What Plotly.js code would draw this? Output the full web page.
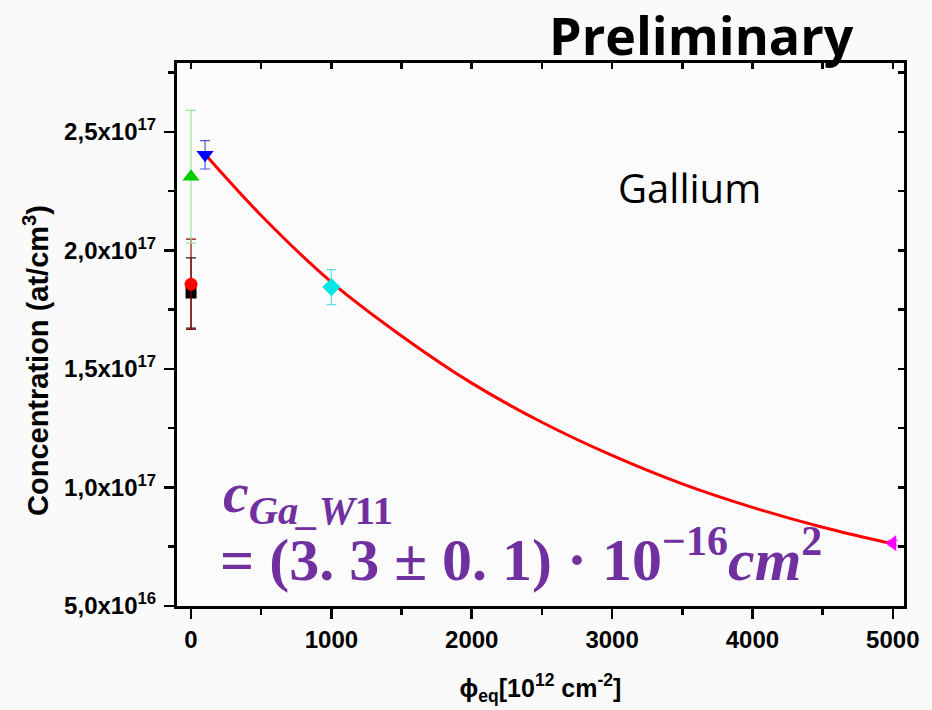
<!DOCTYPE html>
<html>
<head>
<meta charset="utf-8">
<script src="https://cdn.plot.ly/plotly-3.0.1.min.js"></script>
<style>html,body{margin:0;padding:0;background:#fafafa;}</style>
</head>
<body>
<div id="chart" style="width:932px;height:710px;"></div>
<script>
// ---- data ----
const fluence       = [0, 0, 0, 100, 1000, 5000];              // phi_eq [1e12 cm^-2]
const concentration = [1.82e17, 1.857e17, 2.31e17, 2.403e17, 1.845e17, 7.65e16];
const concError     = [1.48e16, 1.9e16, 2.8e16, 6.0e15, 7.4e15, 1.2e15];

const fitFluence = [100, 500, 1000, 1500, 2000, 2500, 3000, 3500, 4000, 4500, 5000];
const fitConc    = [2.405e17, 2.147e17, 1.866e17, 1.639e17, 1.440e17, 1.275e17,
                    1.135e17, 1.015e17, 0.916e17, 0.832e17, 0.762e17];

const xTickVals = [0, 1000, 2000, 3000, 4000, 5000];
const xTickText = ['0', '1000', '2000', '3000', '4000', '5000'];
const yTickVals = [5e16, 1e17, 1.5e17, 2e17, 2.5e17];
const yTickText = ['5,0x10<sup>16</sup>', '1,0x10<sup>17</sup>', '1,5x10<sup>17</sup>',
                   '2,0x10<sup>17</sup>', '2,5x10<sup>17</sup>'];

// ---- styles ----
const symbols   = ['square', 'circle', 'triangle-up', 'triangle-down', 'diamond', 'triangle-left'];
const colors    = ['#000000', '#ff0000', '#00cc00', '#0000ff', '#00e5e5', '#ff00ff'];
const errColors = ['#222222', '#990000', '#99e699', '#5555dd', '#66dede', '#ff55ff'];
const sizes     = [11, 13, 15, 15, 14, 14];

const traces = [{
  x: fitFluence, y: fitConc, mode: 'lines', type: 'scatter',
  line: {color: '#ff0000', width: 3, shape: 'spline'},
  hoverinfo: 'skip', showlegend: false
}];
for (let i = 0; i < fluence.length; i++) {
  traces.push({
    x: [fluence[i]], y: [concentration[i]], type: 'scatter', mode: 'markers',
    marker: {symbol: symbols[i], color: colors[i], size: sizes[i]},
    error_y: {type: 'data', array: [concError[i]], visible: true,
              color: errColors[i], thickness: 1.2, width: 5},
    showlegend: false
  });
}

const xr = [-100, 5080];
const yr = [5e16, 2.79e17];
const tickFont = {family: 'Liberation Sans, Arial, sans-serif', size: 24, color: '#000', weight: 'bold'};
const NB = '\u00a0';

const layout = {
  width: 932, height: 710,
  margin: {l: 177, r: 28, t: 63, b: 104},
  paper_bgcolor: '#fafafa', plot_bgcolor: '#fbfbfb',
  showlegend: false,
  xaxis: {
    range: xr, showgrid: false, zeroline: false,
    showline: true, linecolor: '#000', linewidth: 3, mirror: true,
    ticks: 'outside', ticklen: 10, tickwidth: 2.5, tickcolor: '#000',
    tickvals: xTickVals, ticktext: xTickText, tickfont: tickFont,
    minor: {ticks: 'outside', dtick: 500, tick0: 0, ticklen: 6, tickwidth: 2.5, tickcolor: '#000'},
    title: {text: 'ϕ<sub>eq</sub>[10<sup>12</sup> cm<sup>-2</sup>]', standoff: 28,
            font: {family: 'Liberation Sans, Arial, sans-serif', size: 25, color: '#000', weight: 'bold'}}
  },
  xaxis2: {
    overlaying: 'x', side: 'top', range: xr, matches: 'x',
    showgrid: false, zeroline: false, showline: false, showticklabels: false,
    ticks: 'inside', ticklen: 6, tickwidth: 2.5, tickcolor: '#000', dtick: 500, tick0: 0
  },
  yaxis: {
    range: yr, showgrid: false, zeroline: false,
    showline: true, linecolor: '#000', linewidth: 3, mirror: true,
    ticks: 'outside', ticklen: 10, tickwidth: 2.5, tickcolor: '#000',
    tickvals: yTickVals, ticktext: yTickText, tickfont: tickFont, ticklabelstandoff: 3,
    minor: {ticks: 'outside', dtick: 2.5e16, tick0: 0, ticklen: 6, tickwidth: 2.5, tickcolor: '#000'}
  },
  yaxis2: {
    overlaying: 'y', side: 'right', range: yr, matches: 'y',
    showgrid: false, zeroline: false, showline: false, showticklabels: false,
    ticks: 'inside', ticklen: 6, tickwidth: 2.5, tickcolor: '#000', dtick: 2.5e16, tick0: 0
  },
  annotations: [
    {text: 'Concentration (at/cm<sup>3</sup>)', xref: 'paper', yref: 'paper', x: -0.194, y: 0.453,
     xanchor: 'center', yanchor: 'middle', textangle: -90, showarrow: false,
     font: {family: 'Liberation Sans, Arial, sans-serif', size: 29, color: '#000', weight: 'bold'}},
    {text: '<b>Preliminary</b>', xref: 'paper', yref: 'paper', x: 0.721, y: 1.052,
     xanchor: 'center', yanchor: 'middle', showarrow: false,
     font: {family: 'Open Sans, sans-serif', size: 52, color: '#000'}},
    {text: 'Gallium', xref: 'paper', yref: 'paper', x: 0.7056, y: 0.77,
     xanchor: 'center', yanchor: 'middle', showarrow: false,
     font: {family: 'Open Sans, sans-serif', size: 40, color: '#000'}},
    {text: '<b><i>c</i><sub><i>Ga_W</i>11</sub></b>', xref: 'paper', yref: 'paper', x: 0.06, y: 0.202,
     xanchor: 'left', yanchor: 'middle', showarrow: false,
     font: {family: 'Liberation Serif, serif', size: 58, color: '#7030a0'}},
    {text: '<b>=' + NB + '(3.' + NB + '3' + NB + '±' + NB + '0.' + NB + '1)' + NB + '·' + NB +
           '10<sup>−16</sup><i>cm</i><sup>2</sup></b>', xref: 'paper', yref: 'paper',
     x: 0.056, y: 0.093, xanchor: 'left', yanchor: 'middle', showarrow: false,
     font: {family: 'Liberation Serif, serif', size: 60, color: '#7030a0'}}
  ]
};

// dummy trace so the mirrored tick axes are drawn
traces.push({x: [null], y: [null], xaxis: 'x2', yaxis: 'y2', type: 'scatter', mode: 'markers',
             showlegend: false, hoverinfo: 'skip'});

Plotly.newPlot('chart', traces, layout, {displayModeBar: false, staticPlot: true});
</script>
</body>
</html>
